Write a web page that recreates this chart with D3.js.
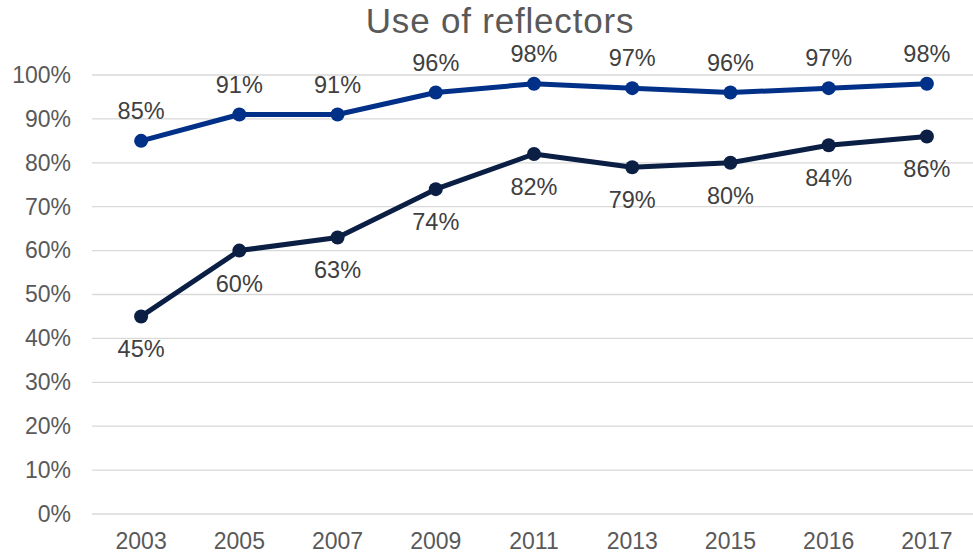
<!DOCTYPE html>
<html>
<head>
<meta charset="utf-8">
<script src="https://cdn.jsdelivr.net/npm/d3@7"></script>
<style>
  body { margin: 0; background: #fff; }
  text { font-family: "Liberation Sans", Arial, sans-serif; }
</style>
</head>
<body>
<div id="chart-area"></div>
<script>
// Use of reflectors line chart

const years = ["2003", "2005", "2007", "2009", "2011", "2013", "2015", "2016", "2017"]
const upper = [85, 91, 91, 96, 98, 97, 96, 97, 98]
const lower = [45, 60, 63, 74, 82, 79, 80, 84, 86]
const yTicks = [0, 10, 20, 30, 40, 50, 60, 70, 80, 90, 100]

const W = 973, H = 557
const MARGIN = { LEFT: 92, RIGHT: -3, TOP: 75, BOTTOM: 43 }
const WIDTH = W - MARGIN.LEFT - MARGIN.RIGHT
const HEIGHT = H - MARGIN.TOP - MARGIN.BOTTOM

const svg = d3.select("#chart-area").append("svg")
    .attr("width", W)
    .attr("height", H)

const g = svg.append("g")
    .attr("transform", `translate(${MARGIN.LEFT}, ${MARGIN.TOP})`)

const x = d3.scaleBand()
    .domain(years)
    .range([0, WIDTH])

const y = d3.scaleLinear()
    .domain([0, 100])
    .range([HEIGHT, 0])

// gridlines
g.selectAll(".grid")
  .data(yTicks)
  .enter().append("line")
    .attr("x1", 0)
    .attr("x2", WIDTH)
    .attr("y1", d => y(d))
    .attr("y2", d => y(d))
    .attr("stroke", "#d9d9d9")
    .attr("stroke-width", 1.3)

// y axis
const yAxis = g.append("g")
    .call(d3.axisLeft(y).tickValues(yTicks).tickFormat(d => d + "%").tickSize(0).tickPadding(21))
yAxis.select(".domain").remove()
yAxis.selectAll("text")
    .attr("fill", "#595959")
    .attr("font-size", "23px")
    .attr("font-family", "Liberation Sans, Arial, sans-serif")

// x axis
const xAxis = g.append("g")
    .attr("transform", `translate(0, ${HEIGHT})`)
    .call(d3.axisBottom(x).tickSize(0).tickPadding(19))
xAxis.select(".domain").remove()
xAxis.selectAll("text")
    .attr("fill", "#595959")
    .attr("font-size", "23px")
    .attr("font-family", "Liberation Sans, Arial, sans-serif")

// title
svg.append("text")
    .attr("x", 500)
    .attr("y", 33)
    .attr("text-anchor", "middle")
    .attr("font-size", "35px")
    .attr("letter-spacing", "0.8px")
    .attr("fill", "#595959")
    .text("Use of reflectors")

const cx = d => x(d) + x.bandwidth() / 2
const line = d3.line()
    .x(d => cx(d.year))
    .y(d => y(d.value))

const series = [
  { values: upper, color: "#003087", labelDy: -22 },
  { values: lower, color: "#0b1f45", labelDy: 41 }
]

series.forEach(s => {
  const pts = years.map((yr, i) => ({ year: yr, value: s.values[i] }))

  g.append("path")
      .datum(pts)
      .attr("fill", "none")
      .attr("stroke", s.color)
      .attr("stroke-width", 5)
      .attr("stroke-linejoin", "round")
      .attr("d", line)

  g.selectAll(null)
    .data(pts)
    .enter().append("circle")
      .attr("cx", d => cx(d.year))
      .attr("cy", d => y(d.value))
      .attr("r", 7)
      .attr("fill", s.color)

  g.selectAll(null)
    .data(pts)
    .enter().append("text")
      .attr("x", d => cx(d.year))
      .attr("y", d => y(d.value) + s.labelDy)
      .attr("text-anchor", "middle")
      .attr("font-size", "23.5px")
      .attr("fill", "#404040")
      .text(d => d.value + "%")
})
</script>
</body>
</html>
